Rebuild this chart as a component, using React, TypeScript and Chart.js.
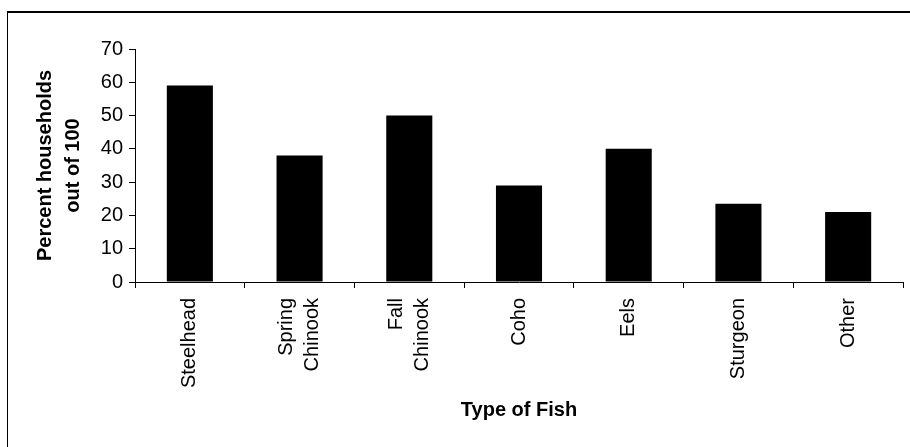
import React, { useEffect, useRef } from "react";
import { Chart, registerables } from "chart.js";

Chart.register(...registerables);

const categories: (string | string[])[] = [
  "Steelhead",
  ["Spring", "Chinook"],
  ["Fall", "Chinook"],
  "Coho",
  "Eels",
  "Sturgeon",
  "Other",
];
const percentValues: number[] = [59, 38, 50, 29, 40, 23.5, 21];
const yTickValues: number[] = [0, 10, 20, 30, 40, 50, 60, 70];
const yTitle: string[] = ["Percent households", "out of 100"];
const xTitle = "Type of Fish";

const FONT = "'Liberation Sans', Arial, sans-serif";

// Center multi-line rotated category labels on their tick
const centerMultiLineLabels = {
  id: "centerMultiLineLabels",
  beforeDraw(chart: any) {
    const scale = chart.scales.x;
    if (!scale) return;
    const items = scale.getLabelItems();
    items.forEach((item: any) => {
      if (item._centered) return;
      const lines = Array.isArray(item.label) ? item.label.length : 1;
      if (lines > 1) {
        const lh = item.font.lineHeight;
        const t = item.options.translation;
        item.options.translation = [t[0] - ((lines - 1) * lh) / 2, t[1]];
      }
      item._centered = true;
    });
  },
};

export default function App() {
  const canvasRef = useRef<HTMLCanvasElement | null>(null);

  useEffect(() => {
    document.body.style.margin = "0";
    const canvas = canvasRef.current;
    if (!canvas) return;
    const chart = new Chart(canvas, {
      type: "bar",
      data: {
        labels: categories,
        datasets: [
          {
            data: percentValues,
            backgroundColor: "#000000",
            borderWidth: 0,
            barPercentage: 0.42,
            categoryPercentage: 1,
          },
        ],
      },
      plugins: [centerMultiLineLabels],
      options: {
        animation: false,
        responsive: false,
        devicePixelRatio: 1,
        layout: { padding: { top: 49, right: 7, bottom: 0, left: 0 } },
        plugins: {
          legend: { display: false },
          tooltip: { enabled: false },
        },
        scales: {
          x: {
            grid: {
              display: true,
              drawOnChartArea: false,
              drawTicks: true,
              tickLength: 6,
              color: "#000000",
              offset: true,
            },
            border: { display: true, color: "#000000", width: 1 },
            ticks: {
              color: "#000000",
              font: { family: FONT, size: 20, lineHeight: 1.3 },
              maxRotation: 90,
              minRotation: 90,
              padding: 10,
              autoSkip: false,
            },
            title: {
              display: true,
              text: xTitle,
              color: "#000000",
              font: { family: FONT, size: 20, weight: "bold" },
              padding: { top: 0, bottom: 25 },
            },
            afterFit: (scale: any) => {
              scale.height = 165;
            },
          },
          y: {
            min: 0,
            max: 70,
            afterBuildTicks: (scale: any) => {
              scale.ticks = yTickValues.map((v) => ({ value: v }));
            },
            grid: {
              display: true,
              drawOnChartArea: false,
              drawTicks: true,
              tickLength: 6,
              color: "#000000",
            },
            border: { display: true, color: "#000000", width: 1 },
            ticks: {
              color: "#000000",
              font: { family: FONT, size: 20 },
              padding: 6,
            },
            title: {
              display: true,
              text: yTitle,
              color: "#000000",
              font: { family: FONT, size: 20, weight: "bold", lineHeight: 1.4 },
              padding: { top: 31, bottom: 0 },
            },
            afterFit: (scale: any) => {
              scale.width = 135;
            },
          },
        },
      },
    });
    return () => chart.destroy();
  }, []);

  return (
    <div style={{ position: "fixed", left: 0, top: 0, width: 910, height: 447, background: "#ffffff", overflow: "hidden" }}>
      <div
        style={{
          position: "absolute",
          left: 7,
          top: 11,
          width: 1000,
          height: 1000,
          borderTop: "2px solid #000",
          borderLeft: "1px solid #000",
        }}
      />
      <canvas ref={canvasRef} width={910} height={447} style={{ position: "absolute", left: 0, top: 0 }} />
    </div>
  );
}
